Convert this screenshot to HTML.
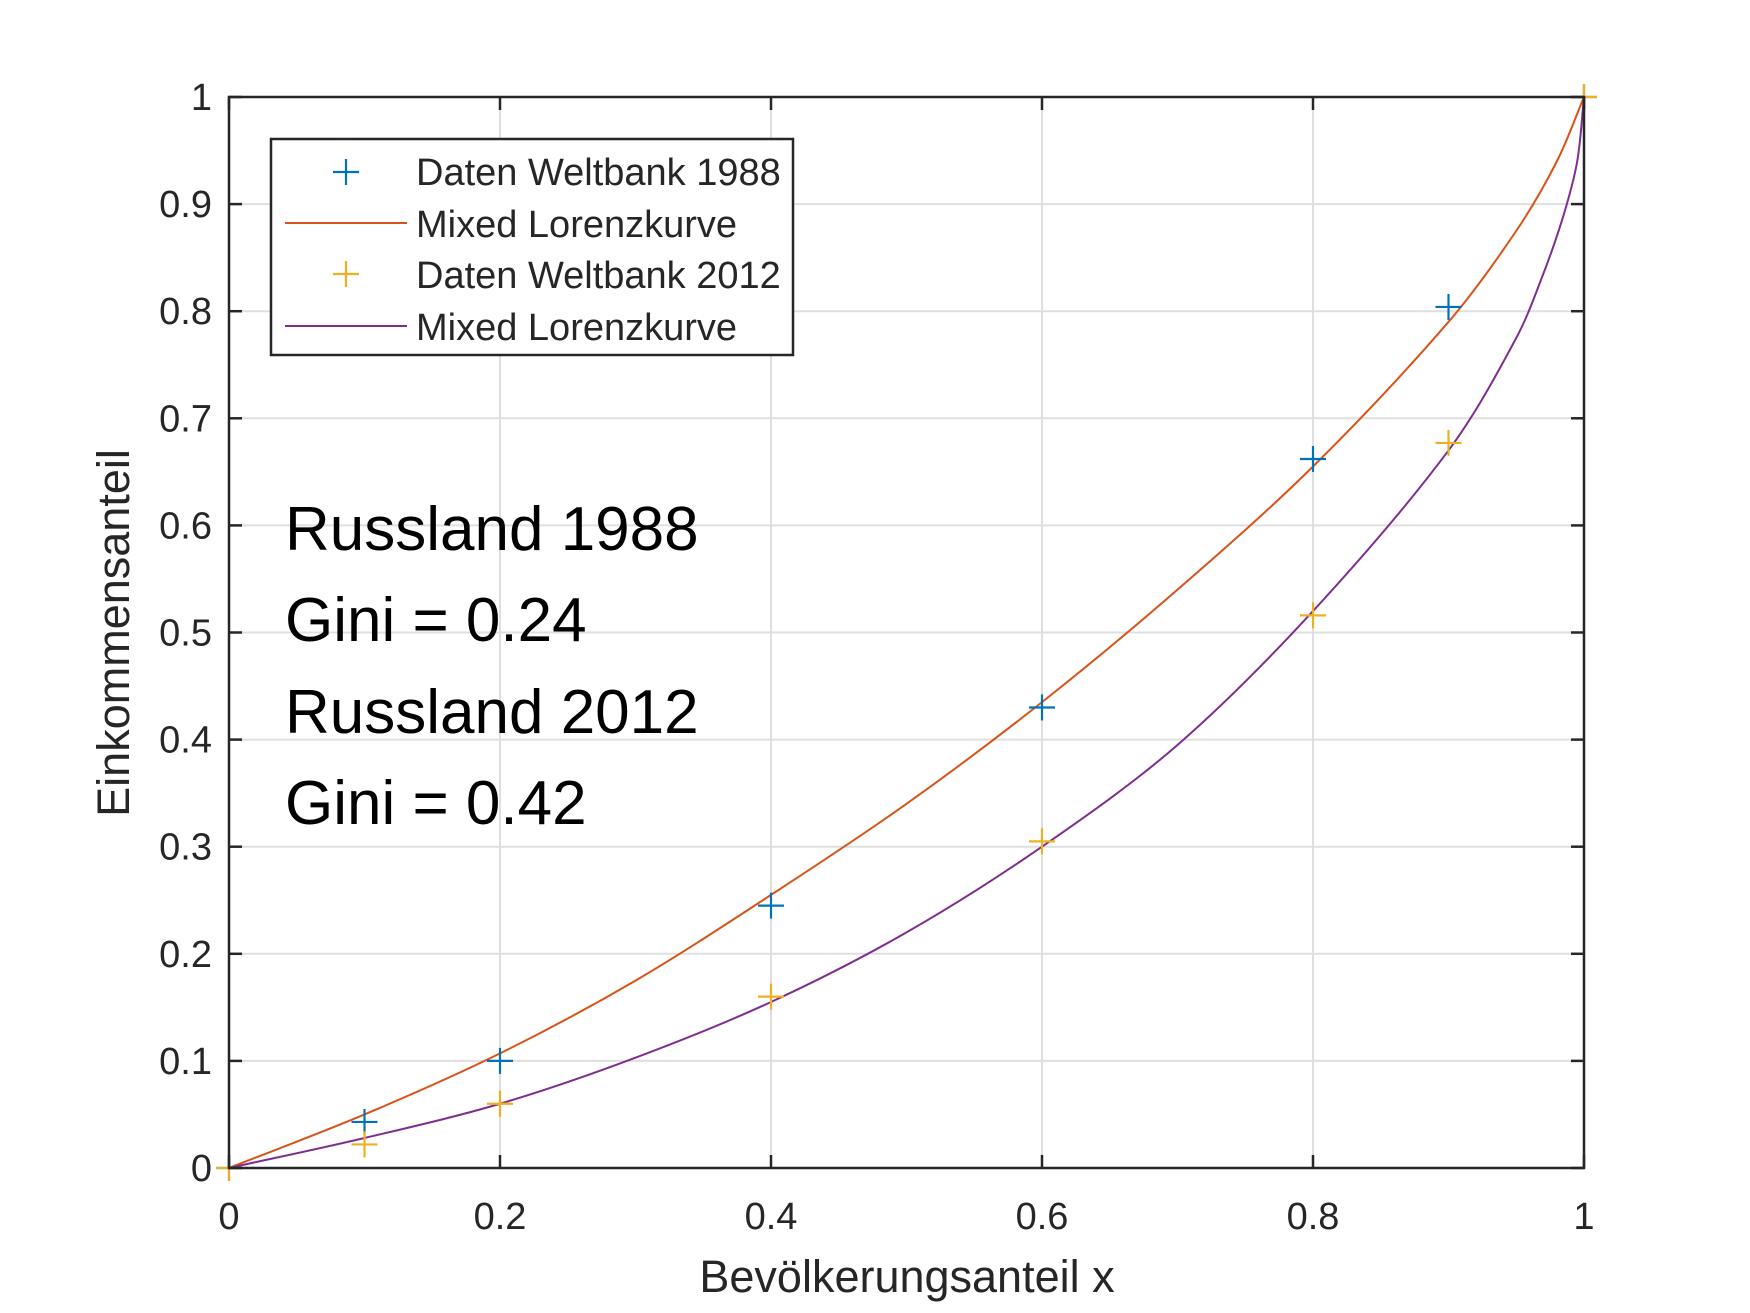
<!DOCTYPE html>
<html><head><meta charset="utf-8"><style>
html,body{margin:0;padding:0;background:#fff;}
svg{display:block;font-family:"Liberation Sans",sans-serif;}
</style></head><body>
<svg id="chart" width="1750" height="1313" viewBox="0 0 1750 1313">
<g id="grid"></g>
<g id="curves"></g>
<g id="markers"></g>
<g id="axes"></g>
<g font-size="62" fill="#000">
<text x="285" y="550">Russland 1988</text>
<text x="285" y="641">Gini = 0.24</text>
<text x="285" y="733">Russland 2012</text>
<text x="285" y="824">Gini = 0.42</text>
</g>
<g>
<rect x="271" y="139" width="522" height="216" fill="#fff" stroke="#262626" stroke-width="2.5"/>
<g font-size="38" fill="#262626">
<line x1="333" y1="172" x2="359" y2="172" stroke="#0072bd" stroke-width="2.2"/><line x1="346" y1="159" x2="346" y2="185" stroke="#0072bd" stroke-width="2.2"/>
<text x="416" y="185">Daten Weltbank 1988</text>
<line x1="285" y1="223" x2="407" y2="223" stroke="#d95319" stroke-width="2"/>
<text x="416" y="237">Mixed Lorenzkurve</text>
<line x1="333" y1="274" x2="359" y2="274" stroke="#edb120" stroke-width="2.2"/><line x1="346" y1="261" x2="346" y2="287" stroke="#edb120" stroke-width="2.2"/>
<text x="416" y="288">Daten Weltbank 2012</text>
<line x1="285" y1="326" x2="407" y2="326" stroke="#7e2f8e" stroke-width="2"/>
<text x="416" y="340">Mixed Lorenzkurve</text>
</g>
</g>
<text x="907" y="1292" font-size="45" fill="#262626" text-anchor="middle">Bevölkerungsanteil x</text>
<text transform="translate(129,633) rotate(-90)" font-size="45" fill="#262626" text-anchor="middle">Einkommensanteil</text>
</svg>
<script>
const xTicks=[0,0.2,0.4,0.6,0.8,1];
const xTickLabels=["0","0.2","0.4","0.6","0.8","1"];
const yTicks=[0,0.1,0.2,0.3,0.4,0.5,0.6,0.7,0.8,0.9,1];
const yTickLabels=["0","0.1","0.2","0.3","0.4","0.5","0.6","0.7","0.8","0.9","1"];
const dataX=[0,0.1,0.2,0.4,0.6,0.8,0.9,1];
const data1988=[0,0.043,0.1,0.245,0.43,0.662,0.804,1];
const data2012=[0,0.022,0.06,0.16,0.305,0.516,0.677,1];
const curveX1988=[0,0.1,0.2,0.3,0.4,0.5,0.6,0.7,0.8,0.9,0.95,0.98,1];
const curveY1988=[0,0.05,0.107,0.175,0.255,0.34,0.435,0.54,0.655,0.79,0.875,0.94,1];
const curveX2012=[0,0.1,0.2,0.3,0.4,0.5,0.6,0.7,0.8,0.9,0.95,0.97,0.985,0.995,1];
const curveY2012=[0,0.028,0.06,0.103,0.155,0.22,0.3,0.395,0.52,0.67,0.775,0.835,0.89,0.94,1];
const L=229,R=1584,T=97,B=1168;
const sx=v=>L+v*(R-L), sy=v=>B-v*(B-T);
const NS="http://www.w3.org/2000/svg";
function mk(tag,attrs,parent){const e=document.createElementNS(NS,tag);for(const k in attrs)e.setAttribute(k,attrs[k]);parent.appendChild(e);return e;}
const grid=document.getElementById('grid'),axes=document.getElementById('axes'),curves=document.getElementById('curves'),markers=document.getElementById('markers');
xTicks.forEach((t,i)=>{
  const g=mk('line',{x1:sx(t),x2:sx(t),y1:T,y2:B,stroke:'#dfdfdf','stroke-width':2},grid);
  
  
  mk('line',{x1:sx(t),x2:sx(t),y1:B,y2:B-13,stroke:'#262626','stroke-width':2.5},axes);
  mk('line',{x1:sx(t),x2:sx(t),y1:T,y2:T+13,stroke:'#262626','stroke-width':2.5},axes);
  const tx=mk('text',{x:sx(t),y:1229,'font-size':38,fill:'#262626','text-anchor':'middle'},axes);
  tx.textContent=xTickLabels[i];
  
  
});
yTicks.forEach((t,i)=>{
  const g=mk('line',{x1:L,x2:R,y1:sy(t),y2:sy(t),stroke:'#dfdfdf','stroke-width':2},grid);
  
  
  mk('line',{x1:L,x2:L+13,y1:sy(t),y2:sy(t),stroke:'#262626','stroke-width':2.5},axes);
  mk('line',{x1:R,x2:R-13,y1:sy(t),y2:sy(t),stroke:'#262626','stroke-width':2.5},axes);
  const tx=mk('text',{x:212,y:sy(t)+13,'font-size':38,fill:'#262626','text-anchor':'end'},axes);
  tx.textContent=yTickLabels[i];
  
  
});
const frame=mk('rect',{x:L,y:T,width:R-L,height:B-T,fill:'none',stroke:'#262626','stroke-width':2.5},axes);


function smooth(xs,ys){
  const p=xs.map((x,i)=>[sx(x),sy(ys[i])]);
  const n=p.length;
  const h=[];for(let i=0;i<n-1;i++)h.push(Math.hypot(p[i+1][0]-p[i][0],p[i+1][1]-p[i][1]));
  const m=p.map((q,i)=>{
    if(i===0)return [(p[1][0]-p[0][0]),(p[1][1]-p[0][1])].map(v=>v/h[0]);
    if(i===n-1)return [(p[n-1][0]-p[n-2][0]),(p[n-1][1]-p[n-2][1])].map(v=>v/h[n-2]);
    const s=h[i-1]+h[i];
    return [(p[i+1][0]-p[i-1][0])/s,(p[i+1][1]-p[i-1][1])/s];
  });
  let d='M'+p[0][0]+','+p[0][1];
  for(let i=0;i<n-1;i++){
    const k=h[i]/3;
    const c1=[p[i][0]+m[i][0]*k,p[i][1]+m[i][1]*k];
    const c2=[p[i+1][0]-m[i+1][0]*k,p[i+1][1]-m[i+1][1]*k];
    d+=' C'+c1+' '+c2+' '+p[i+1];
  }
  return d;
}
const c1=mk('path',{d:smooth(curveX1988,curveY1988),fill:'none',stroke:'#d95319','stroke-width':2},curves);


const c2=mk('path',{d:smooth(curveX2012,curveY2012),fill:'none',stroke:'#7e2f8e','stroke-width':2},curves);


function plus(x,y,col,name){
  const g=mk('g',{stroke:col,'stroke-width':2.2},markers);
  
  
  mk('line',{x1:x-13,x2:x+13,y1:y,y2:y},g);
  mk('line',{x1:x,x2:x,y1:y-13,y2:y+13},g);
}
dataX.forEach((x,i)=>plus(sx(x),sy(data1988[i]),'#0072bd','marker-1988'));
dataX.forEach((x,i)=>plus(sx(x),sy(data2012[i]),'#edb120','marker-2012'));
</script>
</body></html>
